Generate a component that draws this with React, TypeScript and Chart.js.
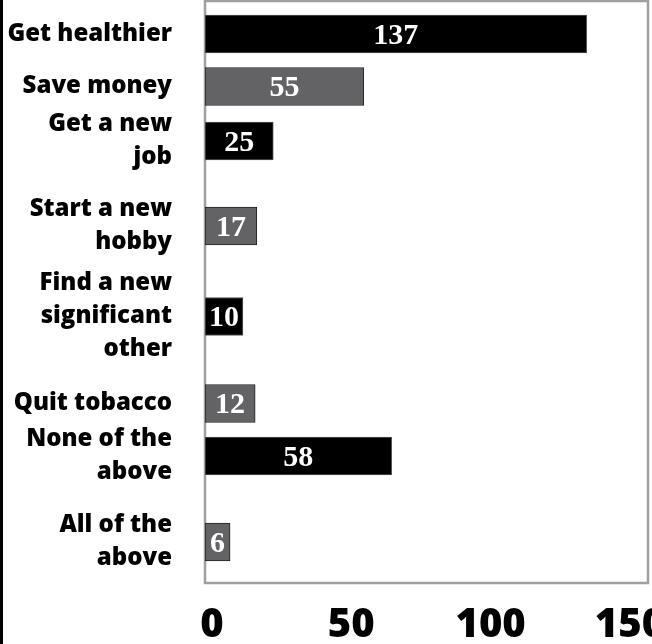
import React, { useEffect, useRef } from "react";
import { Chart, registerables } from "chart.js";

Chart.register(...registerables);

// ---- data ----
const categories: string[][] = [
  ["Get healthier"],
  ["Save money"],
  ["Get a new", "job"],
  ["Start a new", "hobby"],
  ["Find a new", "significant", "other"],
  ["Quit tobacco"],
  ["None of the", "above"],
  ["All of the", "above"],
];
// numbers printed inside the bars
const valueLabels: string[] = ["137", "55", "25", "17", "10", "12", "58", "6"];
// bar lengths as drawn in the picture (on the 0–150 axis)
const barLengths: number[] = [137, 57, 24.5, 18.6, 13.6, 18, 67, 9];
// vertical placement of each row (pixels from top of plot area)
const rowCenters: number[] = [33, 85.5, 140, 225, 315.5, 402.5, 455, 541];
const xTicks: number[] = [0, 50, 100, 150];

const barColors = ["#000000", "#636366", "#000000", "#636366", "#000000", "#636366", "#000000", "#636366"];
const barBorders = ["#555555", "#222222", "#555555", "#222222", "#555555", "#222222", "#555555", "#222222"];

export default function App() {
  const ref = useRef<HTMLCanvasElement | null>(null);

  useEffect(() => {
    if (!ref.current) return;

    const framePlugin = {
      id: "frame",
      beforeDatasetsDraw(chart: any) {
        const { ctx, chartArea } = chart;
        ctx.save();
        ctx.strokeStyle = "#a0a0a4";
        ctx.lineWidth = 2.5;
        ctx.strokeRect(chartArea.left, chartArea.top, chartArea.right - chartArea.left, chartArea.bottom - chartArea.top);
        ctx.restore();
      },
    };

    const valuePlugin = {
      id: "values",
      afterDatasetsDraw(chart: any) {
        const { ctx } = chart;
        const meta = chart.getDatasetMeta(0);
        ctx.save();
        ctx.fillStyle = "#ffffff";
        ctx.font = 'bold 30px "Liberation Serif", "Times New Roman", serif';
        ctx.textAlign = "center";
        ctx.textBaseline = "middle";
        meta.data.forEach((bar: any, i: number) => {
          const cx = (bar.base + bar.x) / 2;
          ctx.fillText(valueLabels[i], cx, bar.y + 2);
        });
        ctx.restore();
      },
    };

    const chart = new Chart(ref.current, {
      type: "bar",
      data: {
        datasets: [
          {
            data: barLengths.map((v, i) => ({ x: v, y: rowCenters[i] })),
            backgroundColor: barColors,
            borderColor: barBorders,
            borderWidth: 1,
            borderSkipped: false,
            barThickness: 38,
          },
        ],
      },
      options: {
        indexAxis: "y",
        animation: false,
        responsive: false,
        devicePixelRatio: 1,
        layout: { padding: { left: 0, right: 52, top: 1, bottom: 0 } },
        plugins: { legend: { display: false }, tooltip: { enabled: false } },
        scales: {
          x: {
            type: "linear",
            min: 0,
            max: 159,
            offset: false,
            grid: { display: false, drawTicks: false },
            border: { display: false },
            afterBuildTicks: (scale: any) => {
              scale.ticks = xTicks.map((v) => ({ value: v }));
            },
            afterFit: (scale: any) => {
              scale.height = 61;
              scale.paddingLeft = 0;
              scale.paddingRight = 0;
            },
            ticks: {
              autoSkip: false,
              padding: 19,
              labelOffset: 7,
              maxRotation: 0,
              color: "#000000",
              font: { family: '"Open Sans", sans-serif', size: 40, weight: 800, lineHeight: 1.2 },
              callback: (v: any) => String(v),
            },
          },
          y: {
            type: "linear",
            reverse: true,
            min: 0,
            max: 582,
            offset: false,
            grid: { display: false, drawTicks: false },
            border: { display: false },
            afterBuildTicks: (scale: any) => {
              scale.ticks = rowCenters.map((v) => ({ value: v }));
            },
            afterFit: (scale: any) => {
              scale.width = 205;
              scale.paddingTop = 0;
              scale.paddingBottom = 0;
            },
            ticks: {
              autoSkip: false,
              padding: 33,
              color: "#000000",
              font: { family: '"Open Sans", sans-serif', size: 24, weight: 800, lineHeight: 1.38 },
              callback: (_v: any, i: number) => categories[i],
            },
          },
        },
      },
      plugins: [framePlugin, valuePlugin],
    } as any);

    return () => chart.destroy();
  }, []);

  return (
    <div style={{ position: "absolute", left: 0, top: 0, width: 652, height: 644, overflow: "hidden", background: "#fff" }}>
      <canvas ref={ref} width={700} height={644} style={{ width: 700, height: 644, display: "block" }} />
      <div style={{ position: "absolute", left: 0, top: 0, width: 3, height: 644, background: "#000" }} />
    </div>
  );
}
